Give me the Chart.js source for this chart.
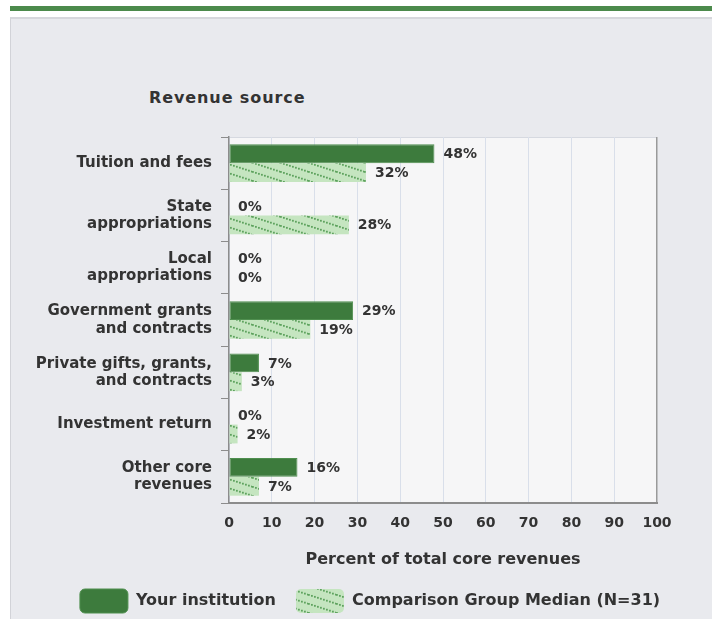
<!DOCTYPE html>
<html>
<head>
<meta charset="utf-8">
<script src="https://cdn.jsdelivr.net/npm/chart.js@4.4.1/dist/chart.umd.min.js"></script>
<style>
  html, body { margin:0; padding:0; width:712px; height:619px; overflow:hidden; background:#ffffff; }
  #topline { position:absolute; left:10px; top:6px; width:702px; height:5px; background:#4c8a4c; }
  #panel { position:absolute; left:10px; top:17px; width:702px; height:610px; background:#e9eaee;
           border-left:1px solid #d2d3d8; border-top:2px solid #d6d7dc; box-sizing:border-box; }
  #ytitle { position:absolute; left:149px; top:88px; font:bold 16px "DejaVu Sans"; letter-spacing:0.9px; color:#333; white-space:nowrap; }
  #wrap { position:absolute; left:0; top:0; width:712px; height:623px; }
</style>
</head>
<body>
<div id="topline"></div>
<div id="panel"></div>
<div id="ytitle"></div>
<div id="wrap"><canvas id="c" width="712" height="623"></canvas></div>
<script>
const categories = [
  "Tuition and fees",
  ["State", "appropriations"],
  ["Local", "appropriations"],
  ["Government grants", "and contracts"],
  ["Private gifts, grants,", "and contracts"],
  "Investment return",
  ["Other core", "revenues"]
];
const yourInstitution = [48, 0, 0, 29, 7, 0, 16];
const comparisonMedian = [32, 28, 0, 19, 3, 2, 7];
const seriesNames = ["Your institution", "Comparison Group Median (N=31)"];
const xTicks = [0, 10, 20, 30, 40, 50, 60, 70, 80, 90, 100];
const yAxisTitle = "Revenue source";
const xAxisTitle = "Percent of total core revenues";

document.getElementById('ytitle').textContent = yAxisTitle;

function makeHatch() {
  const c = document.createElement('canvas');
  c.width = 28; c.height = 9;
  const g = c.getContext('2d');
  g.fillStyle = '#c5e5c0';
  g.fillRect(0, 0, 28, 9);
  g.fillStyle = '#5fa35f';
  for (let x = 0; x < 28; x += 3) {
    const y = x * 9 / 28;
    g.fillRect(x, y, 1.8, 1.8);
    g.fillRect(x, y - 9, 1.8, 1.8);
  }
  return g.createPattern(c, 'repeat');
}
const hatch = makeHatch();

const bgPlugin = {
  id: 'areaBg',
  afterLayout(chart) {
    const lg = chart.legend;
    if (lg) { lg.left += 27; lg.right += 27; }
  },
  beforeDraw(chart) {
    const {ctx, chartArea: a} = chart;
    ctx.save();
    ctx.fillStyle = '#f6f6f7';
    ctx.fillRect(a.left, a.top, a.right - a.left, a.bottom - a.top);
    ctx.strokeStyle = '#d6d9e0';
    ctx.lineWidth = 1;
    ctx.beginPath();
    ctx.moveTo(a.left, a.top + 0.5);
    ctx.lineTo(a.right, a.top + 0.5);
    ctx.stroke();
    ctx.restore();
  }
};

const valueLabels = {
  id: 'valueLabels',
  afterDatasetsDraw(chart) {
    const {ctx} = chart;
    ctx.save();
    ctx.font = 'bold 14px "DejaVu Sans"';
    ctx.fillStyle = '#333333';
    ctx.textAlign = 'left';
    ctx.textBaseline = 'middle';
    chart.data.datasets.forEach((ds, di) => {
      const meta = chart.getDatasetMeta(di);
      meta.data.forEach((el, i) => {
        ctx.fillText(ds.data[i] + '%', el.x + 9, el.y + 1);
      });
    });
    ctx.restore();
  }
};

new Chart(document.getElementById('c'), {
  type: 'bar',
  data: {
    labels: categories,
    datasets: [
      { label: seriesNames[0], data: yourInstitution, backgroundColor: '#3d7b3d',
        borderColor: '#4f8f4f', borderWidth: 1, borderSkipped: false,
        categoryPercentage: 0.72, barPercentage: 1.0 },
      { label: seriesNames[1], data: comparisonMedian, backgroundColor: hatch,
        borderColor: '#c5e5c0', borderWidth: 0,
        categoryPercentage: 0.72, barPercentage: 1.0 }
    ]
  },
  options: {
    indexAxis: 'y',
    responsive: false,
    animation: false,
    devicePixelRatio: 1,
    layout: { padding: { left: 29, right: 55, top: 137, bottom: 0 } },
    scales: {
      x: {
        min: 0, max: 100,
        afterBuildTicks(scale) { scale.ticks = xTicks.map(v => ({ value: v })); },
        grid: {
          drawTicks: false,
          color: ctx => (ctx.tick && ctx.tick.value === 100) ? '#9a9a9a' : '#d9dfea',
          lineWidth: ctx => (ctx.tick && ctx.tick.value === 100) ? 1.5 : 1
        },
        border: { display: true, color: '#8c8c8c', width: 2 },
        ticks: { padding: 12, color: '#333', font: { family: 'DejaVu Sans', size: 14, weight: 'bold' } },
        title: { display: true, text: xAxisTitle, color: '#333',
                 font: { family: 'DejaVu Sans', size: 16, weight: 'bold', lineHeight: 1.2 },
                 padding: { top: 6, bottom: 0 } }
      },
      y: {
        afterFit(scale) { scale.width = 200; },
        grid: { drawOnChartArea: false, drawTicks: true, tickLength: 8, offset: true, color: '#8c8c8c' },
        border: { display: true, color: '#8c8c8c', width: 1.5 },
        ticks: { padding: 9, color: '#333', font: { family: 'DejaVu Sans', size: 15, weight: 'bold', lineHeight: 1.15 } }
      }
    },
    plugins: {
      legend: {
        position: 'bottom',
        labels: {
          boxWidth: 48, boxHeight: 24, padding: 20, color: '#333',
          useBorderRadius: true, borderRadius: 5,
          font: { family: 'DejaVu Sans', size: 16, weight: 'bold' }
        }
      },
      tooltip: { enabled: false }
    }
  },
  plugins: [bgPlugin, valueLabels]
});
</script>
</body>
</html>
